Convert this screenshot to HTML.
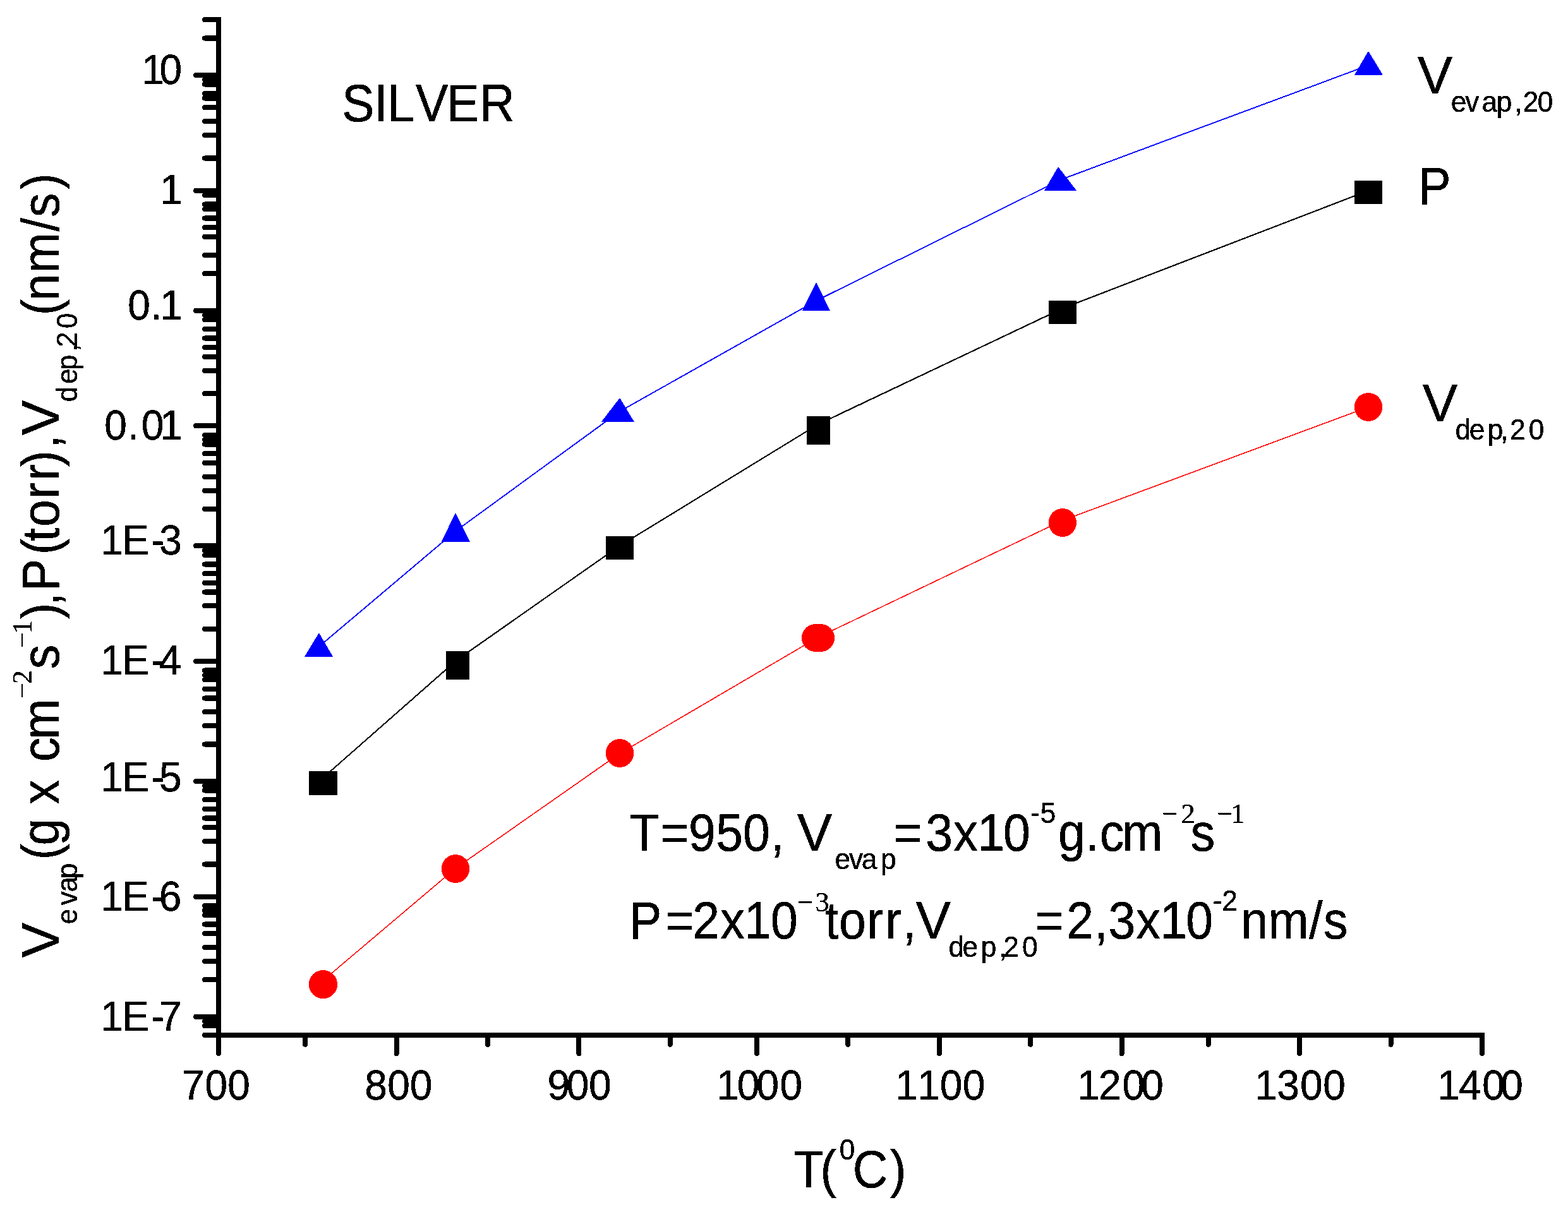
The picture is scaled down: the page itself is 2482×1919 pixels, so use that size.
<!DOCTYPE html>
<html lang="en"><head><meta charset="utf-8"><title>Silver: evaporation rate, vapour pressure and deposition rate vs temperature</title>
<style>html,body{margin:0;padding:0;background:#fff}svg{display:block}text{white-space:pre}</style></head><body>
<svg width="2482" height="1919" viewBox="0 0 2482 1919">
<defs><filter id="crisp" x="0" y="0" width="2482" height="1919" filterUnits="userSpaceOnUse" color-interpolation-filters="sRGB"><feComponentTransfer><feFuncA type="discrete" tableValues="0 1"/></feComponentTransfer></filter></defs>
<rect width="2482" height="1919" fill="#fff"/>
<g filter="url(#crisp)">
<g stroke="#000" stroke-width="8" stroke-linecap="round" fill="none">
<line x1="310" y1="119" x2="346" y2="119"/>
<line x1="310" y1="301.68" x2="346" y2="301.68"/>
<line x1="310" y1="491.66" x2="346" y2="491.66"/>
<line x1="310" y1="674.33" x2="346" y2="674.33"/>
<line x1="310" y1="864.31" x2="346" y2="864.31"/>
<line x1="310" y1="1046.99" x2="346" y2="1046.99"/>
<line x1="310" y1="1236.97" x2="346" y2="1236.97"/>
<line x1="310" y1="1419.65" x2="346" y2="1419.65"/>
<line x1="310" y1="1609.63" x2="346" y2="1609.63"/>
<line x1="324" y1="31.32" x2="346" y2="31.32"/>
<line x1="324" y1="60.54" x2="346" y2="60.54"/>
<line x1="324" y1="126.31" x2="346" y2="126.31"/>
<line x1="324" y1="133.61" x2="346" y2="133.61"/>
<line x1="324" y1="148.23" x2="346" y2="148.23"/>
<line x1="324" y1="155.53" x2="346" y2="155.53"/>
<line x1="324" y1="170.15" x2="346" y2="170.15"/>
<line x1="324" y1="192.07" x2="346" y2="192.07"/>
<line x1="324" y1="213.99" x2="346" y2="213.99"/>
<line x1="324" y1="250.53" x2="346" y2="250.53"/>
<line x1="324" y1="308.98" x2="346" y2="308.98"/>
<line x1="324" y1="323.6" x2="346" y2="323.6"/>
<line x1="324" y1="330.9" x2="346" y2="330.9"/>
<line x1="324" y1="345.52" x2="346" y2="345.52"/>
<line x1="324" y1="360.13" x2="346" y2="360.13"/>
<line x1="324" y1="374.75" x2="346" y2="374.75"/>
<line x1="324" y1="403.97" x2="346" y2="403.97"/>
<line x1="324" y1="433.2" x2="346" y2="433.2"/>
<line x1="324" y1="498.96" x2="346" y2="498.96"/>
<line x1="324" y1="506.27" x2="346" y2="506.27"/>
<line x1="324" y1="520.88" x2="346" y2="520.88"/>
<line x1="324" y1="535.5" x2="346" y2="535.5"/>
<line x1="324" y1="550.11" x2="346" y2="550.11"/>
<line x1="324" y1="564.73" x2="346" y2="564.73"/>
<line x1="324" y1="586.65" x2="346" y2="586.65"/>
<line x1="324" y1="623.18" x2="346" y2="623.18"/>
<line x1="324" y1="688.95" x2="346" y2="688.95"/>
<line x1="324" y1="696.25" x2="346" y2="696.25"/>
<line x1="324" y1="703.56" x2="346" y2="703.56"/>
<line x1="324" y1="718.17" x2="346" y2="718.17"/>
<line x1="324" y1="732.79" x2="346" y2="732.79"/>
<line x1="324" y1="754.71" x2="346" y2="754.71"/>
<line x1="324" y1="776.63" x2="346" y2="776.63"/>
<line x1="324" y1="805.86" x2="346" y2="805.86"/>
<line x1="324" y1="871.62" x2="346" y2="871.62"/>
<line x1="324" y1="878.93" x2="346" y2="878.93"/>
<line x1="324" y1="893.54" x2="346" y2="893.54"/>
<line x1="324" y1="908.16" x2="346" y2="908.16"/>
<line x1="324" y1="922.77" x2="346" y2="922.77"/>
<line x1="324" y1="937.38" x2="346" y2="937.38"/>
<line x1="324" y1="959.31" x2="346" y2="959.31"/>
<line x1="324" y1="995.84" x2="346" y2="995.84"/>
<line x1="324" y1="1061.6" x2="346" y2="1061.6"/>
<line x1="324" y1="1068.91" x2="346" y2="1068.91"/>
<line x1="324" y1="1076.22" x2="346" y2="1076.22"/>
<line x1="324" y1="1090.83" x2="346" y2="1090.83"/>
<line x1="324" y1="1105.45" x2="346" y2="1105.45"/>
<line x1="324" y1="1127.37" x2="346" y2="1127.37"/>
<line x1="324" y1="1149.29" x2="346" y2="1149.29"/>
<line x1="324" y1="1178.52" x2="346" y2="1178.52"/>
<line x1="324" y1="1244.28" x2="346" y2="1244.28"/>
<line x1="324" y1="1251.59" x2="346" y2="1251.59"/>
<line x1="324" y1="1266.2" x2="346" y2="1266.2"/>
<line x1="324" y1="1280.81" x2="346" y2="1280.81"/>
<line x1="324" y1="1295.43" x2="346" y2="1295.43"/>
<line x1="324" y1="1310.04" x2="346" y2="1310.04"/>
<line x1="324" y1="1331.96" x2="346" y2="1331.96"/>
<line x1="324" y1="1368.5" x2="346" y2="1368.5"/>
<line x1="324" y1="1434.26" x2="346" y2="1434.26"/>
<line x1="324" y1="1441.57" x2="346" y2="1441.57"/>
<line x1="324" y1="1448.87" x2="346" y2="1448.87"/>
<line x1="324" y1="1463.49" x2="346" y2="1463.49"/>
<line x1="324" y1="1478.1" x2="346" y2="1478.1"/>
<line x1="324" y1="1500.02" x2="346" y2="1500.02"/>
<line x1="324" y1="1521.94" x2="346" y2="1521.94"/>
<line x1="324" y1="1551.17" x2="346" y2="1551.17"/>
<line x1="324" y1="1616.94" x2="346" y2="1616.94"/>
<line x1="324" y1="1624.24" x2="346" y2="1624.24"/>
<line x1="324" y1="1638.86" x2="346" y2="1638.86"/>
<line x1="346" y1="1639" x2="346" y2="1668"/>
<line x1="627.58" y1="1639" x2="627.58" y2="1668"/>
<line x1="916.38" y1="1639" x2="916.38" y2="1668"/>
<line x1="1197.96" y1="1639" x2="1197.96" y2="1668"/>
<line x1="1486.76" y1="1639" x2="1486.76" y2="1668"/>
<line x1="1775.56" y1="1639" x2="1775.56" y2="1668"/>
<line x1="2057.14" y1="1639" x2="2057.14" y2="1668"/>
<line x1="2345.94" y1="1639" x2="2345.94" y2="1668"/>
<line x1="483.18" y1="1639" x2="483.18" y2="1653.7"/>
<line x1="771.98" y1="1639" x2="771.98" y2="1653.7"/>
<line x1="1060.78" y1="1639" x2="1060.78" y2="1653.7"/>
<line x1="1342.36" y1="1639" x2="1342.36" y2="1653.7"/>
<line x1="1631.16" y1="1639" x2="1631.16" y2="1653.7"/>
<line x1="1912.74" y1="1639" x2="1912.74" y2="1653.7"/>
<line x1="2201.54" y1="1639" x2="2201.54" y2="1653.7"/>
</g>
<rect x="342" y="27" width="8" height="1616" fill="#000"/>
<rect x="342" y="1635" width="2008" height="8" fill="#000"/>
<polyline fill="none" stroke="#00f" stroke-width="1.9" points="504.9,1023.8 721,841 981,651.4 1292.1,476.1 1679,284.5 2166,103.4"/>
<polyline fill="none" stroke="#000" stroke-width="2.1" points="511.5,1231.3 723,1045.1 981,864.2 1295.4,671.6 1682,488.3 2166,301.7"/>
<polyline fill="none" stroke="#f00" stroke-width="1.6" points="511.5,1552.3 721,1374.9 981,1193 1295,1009 1682,824 2166,644.5"/>
<polygon fill="#00f" points="481.8,1040 527.2,1040 504.9,1002"/>
<polygon fill="#00f" points="698.7,857.7 744.1,857.7 721,811.9"/>
<polygon fill="#00f" points="951.8,667.9 1004,667.9 981,630"/>
<polygon fill="#00f" points="1269.8,492 1314,492 1292.1,446.9"/>
<polygon fill="#00f" points="1653,301.9 1704.2,301.9 1675,263.9"/>
<polygon fill="#00f" points="2143.9,118.8 2188.9,118.8 2166,80.8"/>
<rect fill="#000" x="489" y="1221" width="45" height="37.8"/>
<rect fill="#000" x="706" y="1031" width="37" height="44.9"/>
<rect fill="#000" x="959" y="848.9" width="44.1" height="37"/>
<rect fill="#000" x="1276.9" y="658.9" width="37.1" height="45.1"/>
<rect fill="#000" x="1660" y="476" width="44" height="36.9"/>
<rect fill="#000" x="2144" y="286" width="44.1" height="36.9"/>
<ellipse fill="#f00" cx="511.45" cy="1558.55" rx="22.65" ry="22.55"/>
<ellipse fill="#f00" cx="721" cy="1375.5" rx="22.2" ry="22.5"/>
<ellipse fill="#f00" cx="981" cy="1192.5" rx="22.2" ry="22.5"/>
<ellipse fill="#f00" cx="1290.9" cy="1010" rx="22" ry="22"/>
<ellipse fill="#f00" cx="1299.1" cy="1010" rx="22" ry="22"/>
<ellipse fill="#f00" cx="1681.9" cy="827.5" rx="22.1" ry="22.5"/>
<ellipse fill="#f00" cx="2166" cy="644.45" rx="22.2" ry="22.55"/>
<g>
<text transform="translate(0,133) scale(0.9500,1)" font-family="'Liberation Sans', sans-serif" font-size="67.4" fill="#000" stroke="#000" stroke-width="0.5" x="236.15 265.68" y="0">10</text>
<text transform="translate(0,322.8) scale(0.9500,1)" font-family="'Liberation Sans', sans-serif" font-size="67.4" fill="#000" stroke="#000" stroke-width="0.5" x="266.88" y="0">1</text>
<text transform="translate(0,506.3) scale(0.9500,1)" font-family="'Liberation Sans', sans-serif" font-size="67.4" fill="#000" stroke="#000" stroke-width="0.5" x="212.89 250.74 266.88" y="0">0.1</text>
<text transform="translate(0,696.2) scale(0.9500,1)" font-family="'Liberation Sans', sans-serif" font-size="67.4" fill="#000" stroke="#000" stroke-width="0.5" x="173.89 212.64 235.63 266.88" y="0">0.01</text>
<text transform="translate(0,878) scale(0.9500,1)" font-family="'Liberation Sans', sans-serif" font-size="67.4" fill="#000" stroke="#000" stroke-width="0.5" x="167.62 203.73 251.67 265.51" y="0">1E-3</text>
<text transform="translate(0,1067.9) scale(0.9500,1)" font-family="'Liberation Sans', sans-serif" font-size="67.4" fill="#000" stroke="#000" stroke-width="0.5" x="167.62 203.73 251.67 264.84" y="0">1E-4</text>
<text transform="translate(0,1252.5) scale(0.9500,1)" font-family="'Liberation Sans', sans-serif" font-size="67.4" fill="#000" stroke="#000" stroke-width="0.5" x="167.62 203.73 251.67 265.38" y="0">1E-5</text>
<text transform="translate(0,1442.2) scale(0.9500,1)" font-family="'Liberation Sans', sans-serif" font-size="67.4" fill="#000" stroke="#000" stroke-width="0.5" x="167.62 203.73 251.67 265.08" y="0">1E-6</text>
<text transform="translate(0,1632.1) scale(0.9500,1)" font-family="'Liberation Sans', sans-serif" font-size="67.4" fill="#000" stroke="#000" stroke-width="0.5" x="167.62 203.73 251.67 265.28" y="0">1E-7</text>
</g><g>
<text transform="translate(0,1741.2) scale(0.9500,1)" font-family="'Liberation Sans', sans-serif" font-size="67.4" fill="#000" stroke="#000" stroke-width="0.5" x="303.07 341.47 379.15" y="0">700</text>
<text transform="translate(0,1741.2) scale(0.9500,1)" font-family="'Liberation Sans', sans-serif" font-size="67.4" fill="#000" stroke="#000" stroke-width="0.5" x="607.63 645.52 682.84" y="0">800</text>
<text transform="translate(0,1741.2) scale(0.9500,1)" font-family="'Liberation Sans', sans-serif" font-size="67.4" fill="#000" stroke="#000" stroke-width="0.5" x="912.17 943.99 980.94" y="0">900</text>
<text transform="translate(0,1741.2) scale(0.9500,1)" font-family="'Liberation Sans', sans-serif" font-size="67.4" fill="#000" stroke="#000" stroke-width="0.5" x="1193.78 1228.1 1260.63 1299.36" y="0">1000</text>
<text transform="translate(0,1741.2) scale(0.9500,1)" font-family="'Liberation Sans', sans-serif" font-size="67.4" fill="#000" stroke="#000" stroke-width="0.5" x="1491.52 1528.67 1565.99 1603.89" y="0">1100</text>
<text transform="translate(0,1741.2) scale(0.9500,1)" font-family="'Liberation Sans', sans-serif" font-size="67.4" fill="#000" stroke="#000" stroke-width="0.5" x="1794.83 1830.63 1869.89 1901.42" y="0">1200</text>
<text transform="translate(0,1741.2) scale(0.9500,1)" font-family="'Liberation Sans', sans-serif" font-size="67.4" fill="#000" stroke="#000" stroke-width="0.5" x="2090.67 2127.77 2166.21 2204.47" y="0">1300</text>
<text transform="translate(0,1741.2) scale(0.9500,1)" font-family="'Liberation Sans', sans-serif" font-size="67.4" fill="#000" stroke="#000" stroke-width="0.5" x="2395.1 2430.68 2469.84 2500.21" y="0">1400</text>
</g>
<g>
<text transform="translate(0,191.8) scale(0.9300,1)" font-family="'Liberation Sans', sans-serif" font-size="82.7" fill="#000" stroke="#000" stroke-width="0.5" x="582.12 636.9 659.45 707.53 760.11 816.35" y="0">SILVER</text>
</g><g>
<text transform="translate(0,148.2) scale(1.0000,1)" font-family="'Liberation Sans', sans-serif" font-size="82.7" fill="#000" stroke="#000" stroke-width="0.5" x="2243.92" y="0">V</text>
<text transform="translate(0,176.7) scale(0.9600,1)" font-family="'Liberation Sans', sans-serif" font-size="46" fill="#000" stroke="#000" stroke-width="0.4" x="2392.36 2415.79 2443.16 2467.37 2497.15 2511.32 2535.07" y="0">evap,20</text>
</g><g>
<text transform="translate(0,323) scale(0.9300,1)" font-family="'Liberation Sans', sans-serif" font-size="82.7" fill="#000" stroke="#000" stroke-width="0.5" x="2414.33" y="0">P</text>
</g><g>
<text transform="translate(0,667.1) scale(1.0000,1)" font-family="'Liberation Sans', sans-serif" font-size="82.7" fill="#000" stroke="#000" stroke-width="0.5" x="2251.92" y="0">V</text>
<text transform="translate(0,695.6) scale(0.9600,1)" font-family="'Liberation Sans', sans-serif" font-size="46" fill="#000" stroke="#000" stroke-width="0.4" x="2399.6 2422.67 2452.79 2473.97 2489.55 2520.49" y="0">dep,20</text>
</g><g>
<text transform="translate(0,1347.4) scale(0.9300,1)" font-family="'Liberation Sans', sans-serif" font-size="82.7" fill="#000" stroke="#000" stroke-width="0.5" x="1071.48 1124.8 1172.13 1218.43 1264.48 1311.47 1334.45" y="0">T=950, </text>
<text transform="translate(0,1347.4) scale(1.0000,1)" font-family="'Liberation Sans', sans-serif" font-size="82.7" fill="#000" stroke="#000" stroke-width="0.5" x="1261.92" y="0">V</text>
<text transform="translate(0,1375.8) scale(0.9600,1)" font-family="'Liberation Sans', sans-serif" font-size="46" fill="#000" stroke="#000" stroke-width="0.4" x="1376.68 1400.06 1420.5 1452.06" y="0">evap</text>
<text transform="translate(0,1347.4) scale(0.9300,1)" font-family="'Liberation Sans', sans-serif" font-size="82.7" fill="#000" stroke="#000" stroke-width="0.5" x="1521.57 1575.52 1622.96 1663.64 1707.59" y="0">=3x10</text>
<text transform="translate(0,1302.6) scale(0.9600,1)" font-family="'Liberation Sans', sans-serif" font-size="46" fill="#000" stroke="#000" stroke-width="0.4" x="1699.27 1715.48" y="0">-5</text>
<text transform="translate(0,1347.4) scale(0.9300,1)" font-family="'Liberation Sans', sans-serif" font-size="82.7" fill="#000" stroke="#000" stroke-width="0.5" x="1801.1 1847.28 1871.67 1909.94" y="0">g.cm</text>
<text transform="translate(0,1303.4) scale(1.0000,1)" font-family="'Liberation Serif', serif" font-size="44.5" fill="#000" stroke="#000" stroke-width="0.3" x="1839.23 1869.52" y="0">−2</text>
<text transform="translate(0,1347.4) scale(0.9300,1)" font-family="'Liberation Sans', sans-serif" font-size="82.7" fill="#000" stroke="#000" stroke-width="0.5" x="2026.71" y="0">s</text>
<text transform="translate(0,1303.4) scale(1.0000,1)" font-family="'Liberation Serif', serif" font-size="44.5" fill="#000" stroke="#000" stroke-width="0.3" x="1926.23 1947.91" y="0">−1</text>
</g><g>
<text transform="translate(0,1486.3) scale(0.9300,1)" font-family="'Liberation Sans', sans-serif" font-size="82.7" fill="#000" stroke="#000" stroke-width="0.5" x="1071.05 1133.45 1178.78 1225.97 1266.75 1311.84" y="0">P=2x10</text>
<text transform="translate(0,1443.4) scale(1.0000,1)" font-family="'Liberation Serif', serif" font-size="44.5" fill="#000" stroke="#000" stroke-width="0.3" x="1261.83 1290.53" y="0">−3</text>
<text transform="translate(0,1486.3) scale(0.9300,1)" font-family="'Liberation Sans', sans-serif" font-size="82.7" fill="#000" stroke="#000" stroke-width="0.5" x="1404.21 1428.08 1475.46 1506.81 1536.25" y="0">torr,</text>
<text transform="translate(0,1486.3) scale(1.0000,1)" font-family="'Liberation Sans', sans-serif" font-size="82.7" fill="#000" stroke="#000" stroke-width="0.5" x="1449.87" y="0">V</text>
<text transform="translate(0,1514.5) scale(0.9600,1)" font-family="'Liberation Sans', sans-serif" font-size="46" fill="#000" stroke="#000" stroke-width="0.4" x="1564.18 1587.1 1617.53 1647.2 1654.5 1685.54" y="0">dep,20</text>
<text transform="translate(0,1486.3) scale(0.9300,1)" font-family="'Liberation Sans', sans-serif" font-size="82.7" fill="#000" stroke="#000" stroke-width="0.5" x="1762.49 1815.39 1862.97 1886.44 1933.71 1974.34 2018.45" y="0">=2,3x10</text>
<text transform="translate(0,1442.3) scale(0.9600,1)" font-family="'Liberation Sans', sans-serif" font-size="46" fill="#000" stroke="#000" stroke-width="0.4" x="1999.79 2014.97" y="0">-2</text>
<text transform="translate(0,1486.3) scale(0.9300,1)" font-family="'Liberation Sans', sans-serif" font-size="82.7" fill="#000" stroke="#000" stroke-width="0.5" x="2112.05 2158.65 2228.35 2252.57" y="0">nm/s</text>
</g><g>
<text transform="translate(0,1880) scale(0.9300,1)" font-family="'Liberation Sans', sans-serif" font-size="82.7" fill="#000" stroke="#000" stroke-width="0.5" x="1351.16 1396.22" y="0">T(</text>
<text transform="translate(0,1836) scale(0.9600,1)" font-family="'Liberation Sans', sans-serif" font-size="46" fill="#000" stroke="#000" stroke-width="0.4" x="1384.19" y="0">0</text>
<text transform="translate(0,1880) scale(0.9300,1)" font-family="'Liberation Sans', sans-serif" font-size="82.7" fill="#000" stroke="#000" stroke-width="0.5" x="1451.33 1514.84" y="0">C)</text>
</g><g>
<text transform="translate(93.3,0) rotate(-90) scale(1.0000,1)" font-family="'Liberation Sans', sans-serif" font-size="82.7" fill="#000" stroke="#000" stroke-width="0.5" x="-1516.23" y="0">V</text>
<text transform="translate(121.9,0) rotate(-90) scale(0.9600,1)" font-family="'Liberation Sans', sans-serif" font-size="46" fill="#000" stroke="#000" stroke-width="0.4" x="-1524.26 -1493.22 -1471.37 -1449.3" y="0">evap</text>
<text transform="translate(93.3,0) rotate(-90) scale(0.9300,1)" font-family="'Liberation Sans', sans-serif" font-size="82.7" fill="#000" stroke="#000" stroke-width="0.5" x="-1463.99 -1439.33 -1393.33 -1368.97 -1327.62 -1296.77 -1258.66" y="0">(g x cm</text>
<text transform="translate(50.2,0) rotate(-90) scale(1.0000,1)" font-family="'Liberation Serif', serif" font-size="44.5" fill="#000" stroke="#000" stroke-width="0.3" x="-1106.37 -1083.28" y="0">−2</text>
<text transform="translate(93.3,0) rotate(-90) scale(0.9300,1)" font-family="'Liberation Sans', sans-serif" font-size="82.7" fill="#000" stroke="#000" stroke-width="0.5" x="-1138.99" y="0">s</text>
<text transform="translate(50.2,0) rotate(-90) scale(1.0000,1)" font-family="'Liberation Serif', serif" font-size="44.5" fill="#000" stroke="#000" stroke-width="0.3" x="-1026.42 -1003.74" y="0">−1</text>
<text transform="translate(93.3,0) rotate(-90) scale(0.9300,1)" font-family="'Liberation Sans', sans-serif" font-size="82.7" fill="#000" stroke="#000" stroke-width="0.5" x="-1053.97 -1031.7 -1006.75 -944.37 -921.44 -896.87 -849.27 -817.76 -794.62 -763.64" y="0">),P(torr),</text>
<text transform="translate(93.3,0) rotate(-90) scale(1.0000,1)" font-family="'Liberation Sans', sans-serif" font-size="82.7" fill="#000" stroke="#000" stroke-width="0.5" x="-689.08" y="0">V</text>
<text transform="translate(121.9,0) rotate(-90) scale(0.9600,1)" font-family="'Liberation Sans', sans-serif" font-size="46" fill="#000" stroke="#000" stroke-width="0.4" x="-663.06 -633.37 -610.5 -580.14 -572.74 -541.75" y="0">dep,20</text>
<text transform="translate(93.3,0) rotate(-90) scale(0.9300,1)" font-family="'Liberation Sans', sans-serif" font-size="82.7" fill="#000" stroke="#000" stroke-width="0.5" x="-537.06 -512.2 -465 -394.23 -369.96 -322.79" y="0">(nm/s)</text>
</g>
</g>
</svg></body></html>
